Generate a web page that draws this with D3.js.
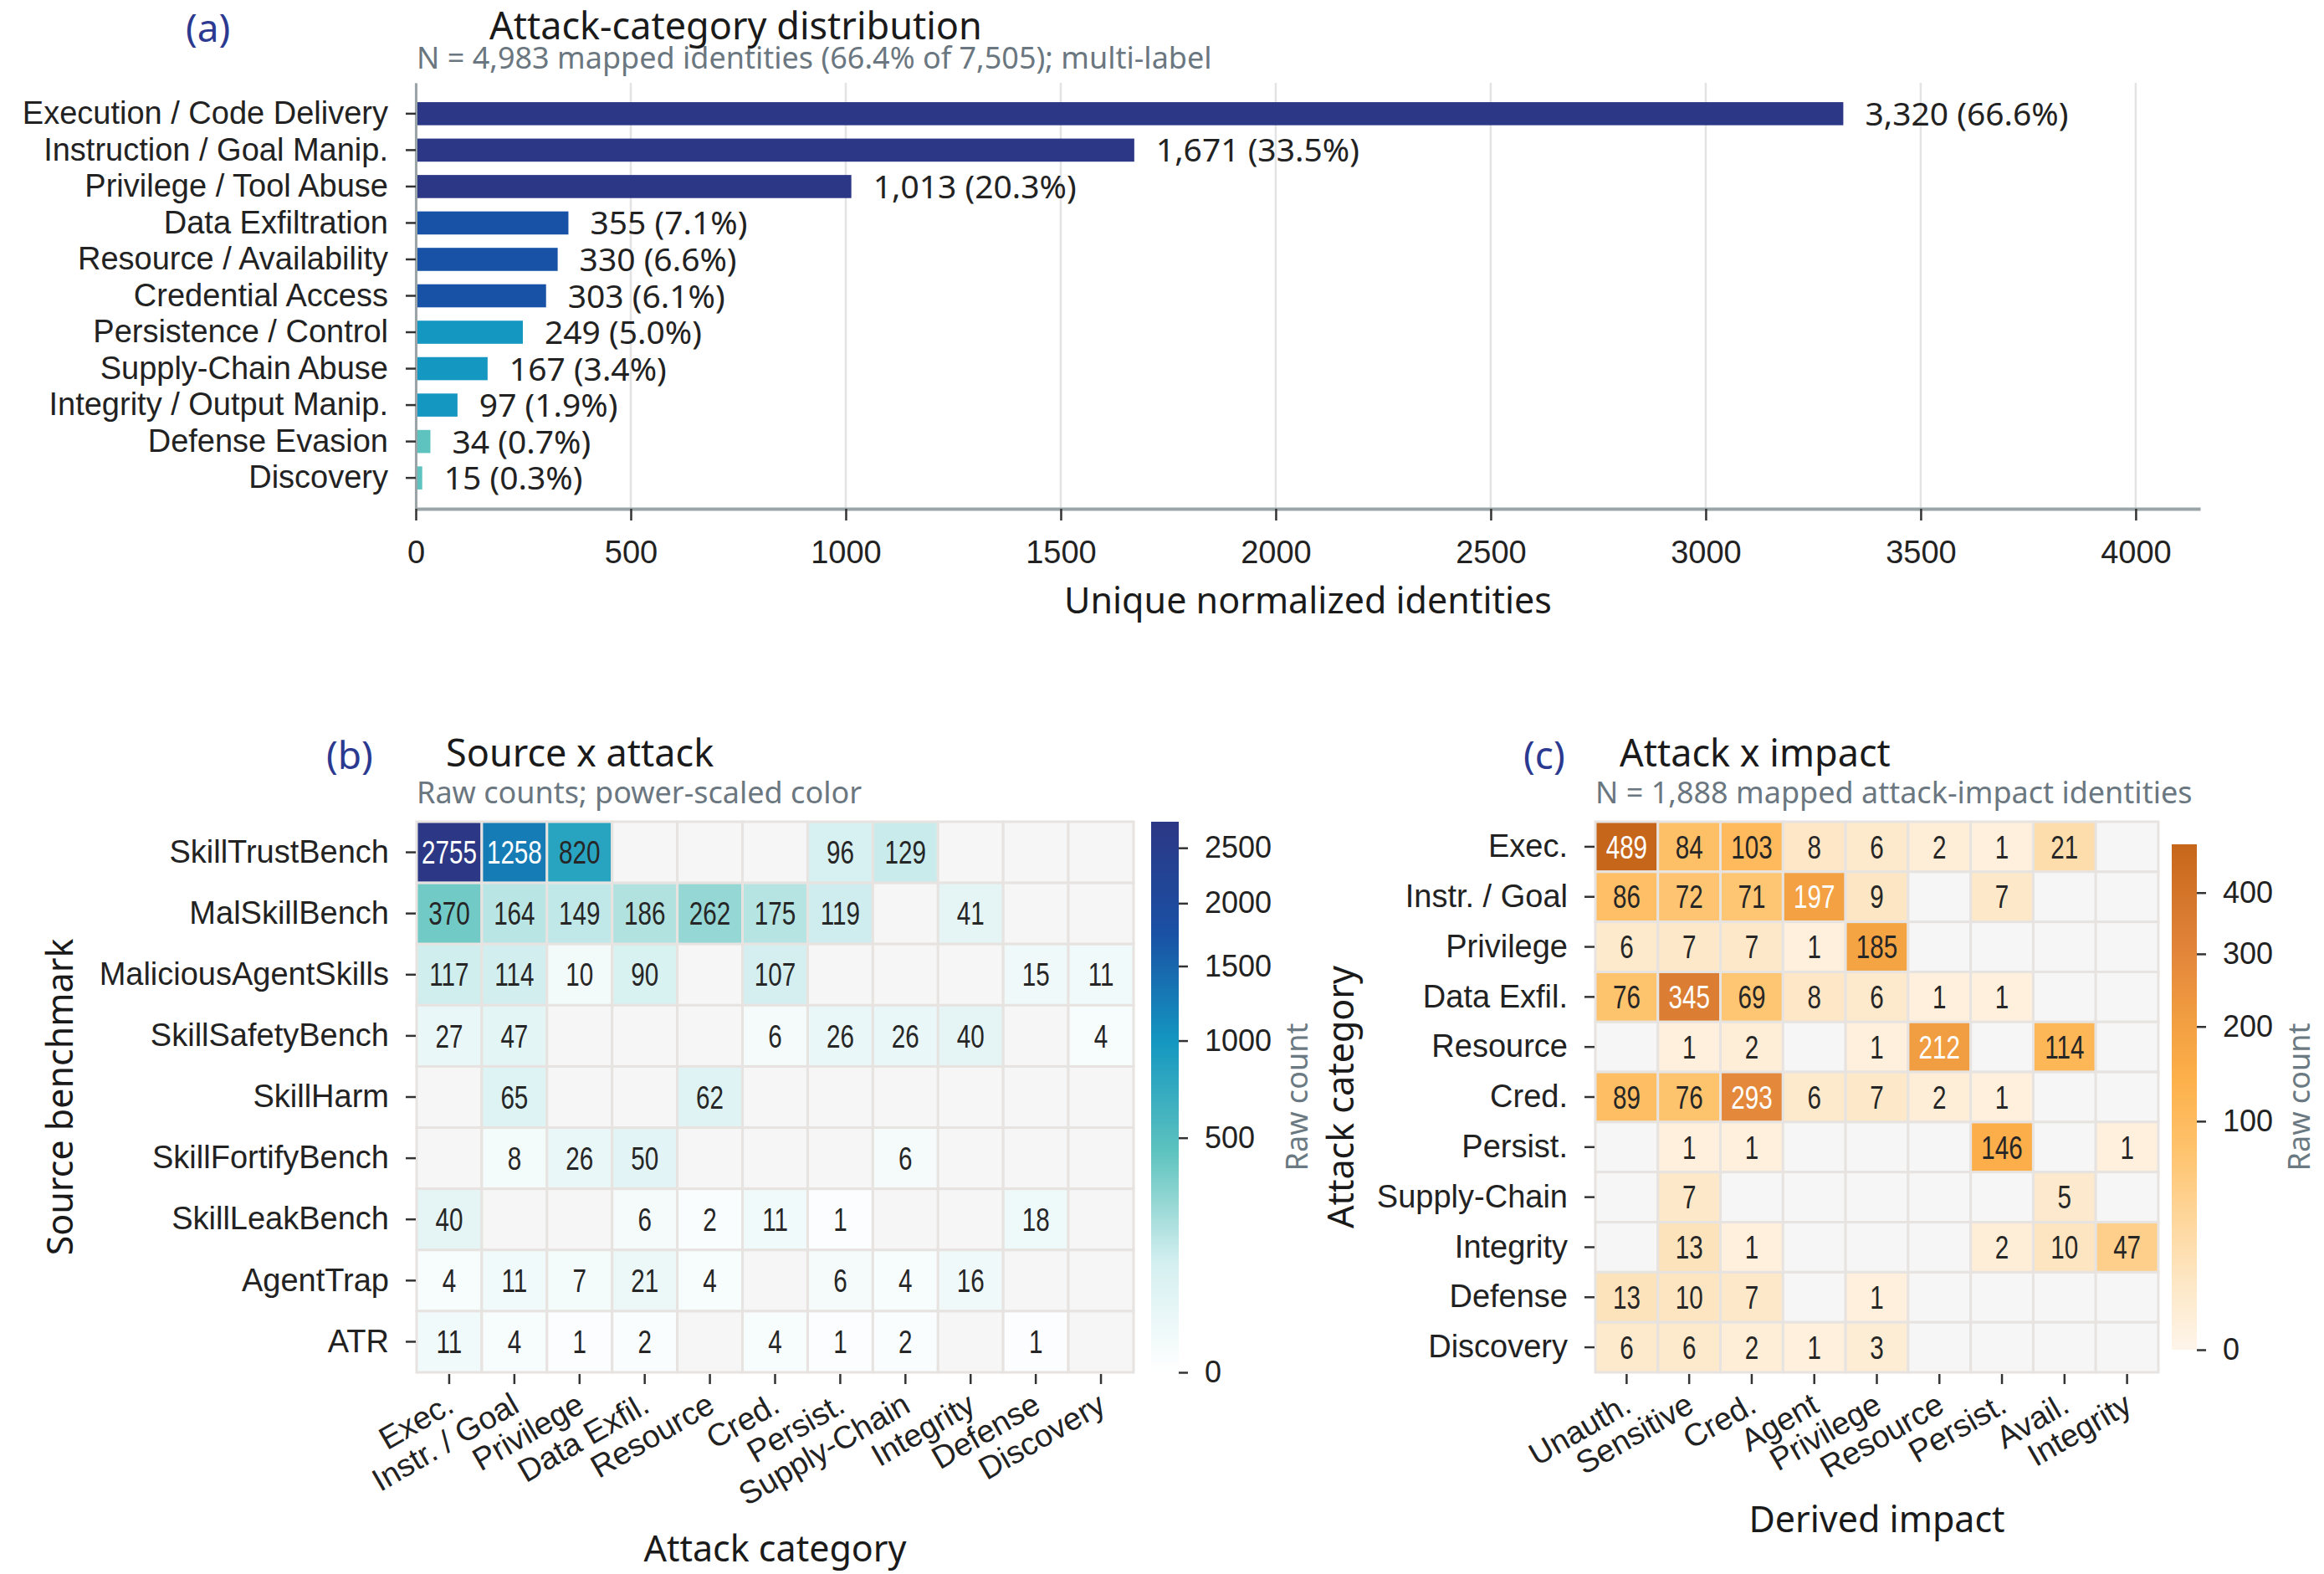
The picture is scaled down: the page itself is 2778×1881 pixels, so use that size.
<!DOCTYPE html>
<meta charset="utf-8">
<style>
  body { margin: 0; background: #fff; }
  svg { display: block; font-family: "Noto Sans", sans-serif; }
  .axis text { fill: #222; }
  .axis line { stroke: #333; stroke-width: 2.5; }
</style>
<body>
<script src="https://cdn.jsdelivr.net/npm/d3@7"></script>
<script>

// ---- panel (a) data
var attackCats = ["Execution / Code Delivery", "Instruction / Goal Manip.", "Privilege / Tool Abuse",
  "Data Exfiltration", "Resource / Availability", "Credential Access", "Persistence / Control",
  "Supply-Chain Abuse", "Integrity / Output Manip.", "Defense Evasion", "Discovery"];
var attackCounts = [3320, 1671, 1013, 355, 330, 303, 249, 167, 97, 34, 15];
var attackPct = [66.6, 33.5, 20.3, 7.1, 6.6, 6.1, 5.0, 3.4, 1.9, 0.7, 0.3];
var xTicksA = [0, 500, 1000, 1500, 2000, 2500, 3000, 3500, 4000];

// ---- panel (b) data
var benchmarks = ["SkillTrustBench", "MalSkillBench", "MaliciousAgentSkills", "SkillSafetyBench",
  "SkillHarm", "SkillFortifyBench", "SkillLeakBench", "AgentTrap", "ATR"];
var attackShort = ["Exec.", "Instr. / Goal", "Privilege", "Data Exfil.", "Resource", "Cred.",
  "Persist.", "Supply-Chain", "Integrity", "Defense", "Discovery"];
var sourceAttack = [
  [2755, 1258, 820, 0, 0, 0, 96, 129, 0, 0, 0],
  [370, 164, 149, 186, 262, 175, 119, 0, 41, 0, 0],
  [117, 114, 10, 90, 0, 107, 0, 0, 0, 15, 11],
  [27, 47, 0, 0, 0, 6, 26, 26, 40, 0, 4],
  [0, 65, 0, 0, 62, 0, 0, 0, 0, 0, 0],
  [0, 8, 26, 50, 0, 0, 0, 6, 0, 0, 0],
  [40, 0, 0, 6, 2, 11, 1, 0, 0, 18, 0],
  [4, 11, 7, 21, 4, 0, 6, 4, 16, 0, 0],
  [11, 4, 1, 2, 0, 4, 1, 2, 0, 1, 0]
];
var cbTicksB = [0, 500, 1000, 1500, 2000, 2500];

// ---- panel (c) data
var impactRows = ["Exec.", "Instr. / Goal", "Privilege", "Data Exfil.", "Resource", "Cred.",
  "Persist.", "Supply-Chain", "Integrity", "Defense", "Discovery"];
var impactCats = ["Unauth.", "Sensitive", "Cred.", "Agent", "Privilege", "Resource", "Persist.", "Avail.", "Integrity"];
var attackImpact = [
  [489, 84, 103, 8, 6, 2, 1, 21, 0],
  [86, 72, 71, 197, 9, 0, 7, 0, 0],
  [6, 7, 7, 1, 185, 0, 0, 0, 0],
  [76, 345, 69, 8, 6, 1, 1, 0, 0],
  [0, 1, 2, 0, 1, 212, 0, 114, 0],
  [89, 76, 293, 6, 7, 2, 1, 0, 0],
  [0, 1, 1, 0, 0, 0, 146, 0, 1],
  [0, 7, 0, 0, 0, 0, 0, 5, 0],
  [0, 13, 1, 0, 0, 0, 2, 10, 47],
  [13, 10, 7, 0, 1, 0, 0, 0, 0],
  [6, 6, 2, 1, 3, 0, 0, 0, 0]
];
var cbTicksC = [0, 100, 200, 300, 400];

// ---- colour maps (power-scaled, gamma 0.5)
var blueStops = [0, 0.2, 0.3, 0.4, 0.6, 0.8, 1];
var blueCols = ["#ffffff", "#d4eff0", "#9ad9d6", "#5ec3bf", "#1497c1", "#1a50a4", "#2c3785"];
var orangeStops = [0, 0.13, 0.27, 0.4, 0.53, 0.64, 0.79, 1];
var orangeCols = ["#fef5ea", "#fde7c6", "#fed598", "#fec26b", "#fdb14b", "#f3a042", "#e2853a", "#c6661b"];
var cmapB = d3.scaleLinear().domain(blueStops).range(blueCols);
var cmapC = d3.scaleLinear().domain(orangeStops).range(orangeCols);
var tierCols = ["#2c3785", "#1752a6", "#1497c1", "#5ec3bf"];

var W = 2778, H = 1881;
var svg = d3.select("body").append("svg").attr("width", W).attr("height", H);
svg.append("rect").attr("width", W).attr("height", H).attr("fill", "#fff");
var defs = svg.append("defs");

function title(x0, xl, xs, tag, main, sub, yb, ys) {
  svg.append("text").attr("x", xl).attr("y", yb + 3).attr("font-size", 46).attr("fill", "#2b3990").text(tag);
  svg.append("text").attr("x", x0).attr("y", yb).attr("font-size", 45).attr("fill", "#1a1a1a").text(main);
  svg.append("text").attr("x", xs).attr("y", ys).attr("font-size", 36).attr("fill", "#6b7780").text(sub);
}

// ================= panel (a)
var ax = d3.scaleLinear().domain([0, 4150]).range([497, 2630]);
var ay = d3.scaleBand().domain(attackCats).range([99, 608]).paddingInner(0.366).paddingOuter(0.53);

svg.append("g").selectAll("line").data(xTicksA).enter().append("line")
  .attr("x1", d => ax(d)).attr("x2", d => ax(d)).attr("y1", 99).attr("y2", 608)
  .attr("stroke", "#e3e3e3").attr("stroke-width", 2.5);

svg.append("g").selectAll("rect").data(attackCats).enter().append("rect")
  .attr("x", ax(0)).attr("y", d => ay(d))
  .attr("width", (d, i) => ax(attackCounts[i]) - ax(0)).attr("height", ay.bandwidth())
  .attr("fill", (d, i) => tierCols[Math.min(3, Math.floor(i / 3))]);

svg.append("g").selectAll("text").data(attackCats).enter().append("text")
  .attr("x", (d, i) => ax(attackCounts[i]) + 26).attr("y", d => ay(d) + ay.bandwidth() / 2)
  .attr("dy", "0.36em").attr("font-size", 39).attr("fill", "#222")
  .text((d, i) => d3.format(",")(attackCounts[i]) + " (" + attackPct[i].toFixed(1) + "%)");

var aLeft = svg.append("g").attr("class", "axis").attr("transform", "translate(497,0)")
  .call(d3.axisLeft(ay).tickSize(12).tickSizeOuter(0).tickPadding(21));
aLeft.selectAll("text").attr("font-size", 38).attr("font-family", null);
aLeft.select(".domain").attr("stroke", "#9aa3a6").attr("stroke-width", 3);

var aBot = svg.append("g").attr("class", "axis").attr("transform", "translate(0,608)")
  .call(d3.axisBottom(ax).tickValues(xTicksA).tickFormat(d3.format("d")).tickSize(14).tickSizeOuter(0).tickPadding(24));
aBot.selectAll("text").attr("font-size", 38).attr("font-family", null);
aBot.select(".domain").attr("stroke", "#9aa5a8").attr("stroke-width", 4);

svg.append("text").attr("x", (497 + 2630) / 2).attr("y", 733).attr("text-anchor", "middle")
  .attr("font-size", 43).attr("fill", "#1a1a1a").text("Unique normalized identities");

title(585, 222, 498, "(a)", "Attack-category distribution", "N = 4,983 mapped identities (66.4% of 7,505); multi-label", 47, 82);

// ================= heatmap helper
function heatmap(o) {
  var hx = d3.scaleBand().domain(o.cols).range([o.x0, o.x1]);
  var hy = d3.scaleBand().domain(o.rows).range([o.y0, o.y1]);
  var norm = d3.scaleSqrt().domain([0, o.vmax]).range([0, 1]);
  var cells = [];
  o.values.forEach((row, r) => row.forEach((v, c) => cells.push({ r: o.rows[r], c: o.cols[c], v: v })));

  var g = svg.append("g");
  g.selectAll("rect").data(cells).enter().append("rect")
    .attr("x", d => hx(d.c)).attr("y", d => hy(d.r))
    .attr("width", hx.bandwidth()).attr("height", hy.bandwidth())
    .attr("fill", d => d.v > 0 ? o.cmap(norm(d.v)) : "#f5f6f5")
    .attr("stroke", "#e7e3e0").attr("stroke-width", 3);
  // narrow numerals: Liberation Sans squeezed horizontally
  g.selectAll("text").data(cells.filter(d => d.v > 0)).enter().append("text")
    .attr("transform", d => "translate(" + (hx(d.c) + hx.bandwidth() / 2) + "," + (hy(d.r) + hy.bandwidth() / 2) + ") scale(0.78,1)")
    .attr("dy", "0.36em").attr("text-anchor", "middle")
    .attr("font-family", "'Liberation Sans', Arial, sans-serif")
    .attr("font-size", 38)
    .attr("fill", d => norm(d.v) > 0.625 ? "#fff" : "#262626")
    .text(d => d.v);

  // y axis (ticks only)
  var yl = svg.append("g").attr("class", "axis").attr("transform", "translate(" + (o.x0 - 1) + ",0)")
    .call(d3.axisLeft(hy).tickSize(12).tickSizeOuter(0).tickPadding(20));
  yl.select(".domain").remove();
  yl.selectAll("text").attr("font-size", 38).attr("font-family", null);

  // x axis, rotated labels
  var xl = svg.append("g").attr("class", "axis").attr("transform", "translate(0," + (o.y1 + 2) + ")")
    .call(d3.axisBottom(hx).tickSize(12).tickSizeOuter(0));
  xl.select(".domain").remove();
  xl.selectAll("text").attr("font-size", 38).attr("font-family", null)
    .attr("text-anchor", "end").attr("dy", null).attr("y", 0)
    .attr("transform", "translate(8,44) rotate(-30)");

  svg.append("text").attr("x", (o.x0 + o.x1) / 2).attr("y", o.xlabY).attr("text-anchor", "middle")
    .attr("font-size", 43).attr("fill", "#1a1a1a").text(o.xlab);
  svg.append("text").attr("transform", "translate(" + o.ylabX + "," + (o.y0 + o.y1) / 2 + ") rotate(-90)")
    .attr("text-anchor", "middle").attr("dy", "0.36em")
    .attr("font-size", 43).attr("fill", "#1a1a1a").text(o.ylab);

  // colour bar
  var gid = "grad" + o.id;
  var grad = defs.append("linearGradient").attr("id", gid)
    .attr("x1", 0).attr("y1", 1).attr("x2", 0).attr("y2", 0);
  o.stops.forEach((s, i) => grad.append("stop").attr("offset", s).attr("stop-color", o.colors[i]));
  svg.append("rect").attr("x", o.cbX).attr("y", o.cbY0).attr("width", o.cbW).attr("height", o.cbY1 - o.cbY0)
    .attr("fill", "url(#" + gid + ")");
  var cs = d3.scaleSqrt().domain([0, o.vmax]).range([o.cbY1, o.cbY0]);
  var cb = svg.append("g").attr("class", "axis").attr("transform", "translate(" + (o.cbX + o.cbW) + ",0)")
    .call(d3.axisRight(cs).tickValues(o.cbTicks).tickFormat(d3.format("d")).tickSize(11).tickSizeOuter(0).tickPadding(20));
  cb.select(".domain").remove();
  cb.selectAll("text").attr("font-size", 36).attr("font-family", null);
  svg.append("text").attr("transform", "translate(" + o.cbLabX + "," + (o.cbY0 + o.cbY1) / 2 + ") rotate(-90)")
    .attr("text-anchor", "middle").attr("dy", "0.36em")
    .attr("font-size", 36).attr("fill", "#6b7a82").text("Raw count");
}

heatmap({
  id: "b", rows: benchmarks, cols: attackShort, values: sourceAttack, vmax: 2755,
  x0: 498, x1: 1355, y0: 982, y1: 1640, cmap: cmapB, stops: blueStops, colors: blueCols,
  xlab: "Attack category", xlabY: 1866, ylab: "Source benchmark", ylabX: 72,
  cbX: 1376, cbW: 33, cbY0: 982, cbY1: 1640, cbTicks: cbTicksB, cbLabX: 1550
});
title(533, 390, 498, "(b)", "Source x attack", "Raw counts; power-scaled color", 916, 960);

heatmap({
  id: "c", rows: impactRows, cols: impactCats, values: attackImpact, vmax: 489,
  x0: 1907, x1: 2580, y0: 982, y1: 1640, cmap: cmapC, stops: orangeStops, colors: orangeCols,
  xlab: "Derived impact", xlabY: 1831, ylab: "Attack category", ylabX: 1603,
  cbX: 2596, cbW: 30, cbY0: 1009, cbY1: 1613, cbTicks: cbTicksC, cbLabX: 2748
});
title(1936, 1821, 1907, "(c)", "Attack x impact", "N = 1,888 mapped attack-impact identities", 916, 960);

</script>
</body>
